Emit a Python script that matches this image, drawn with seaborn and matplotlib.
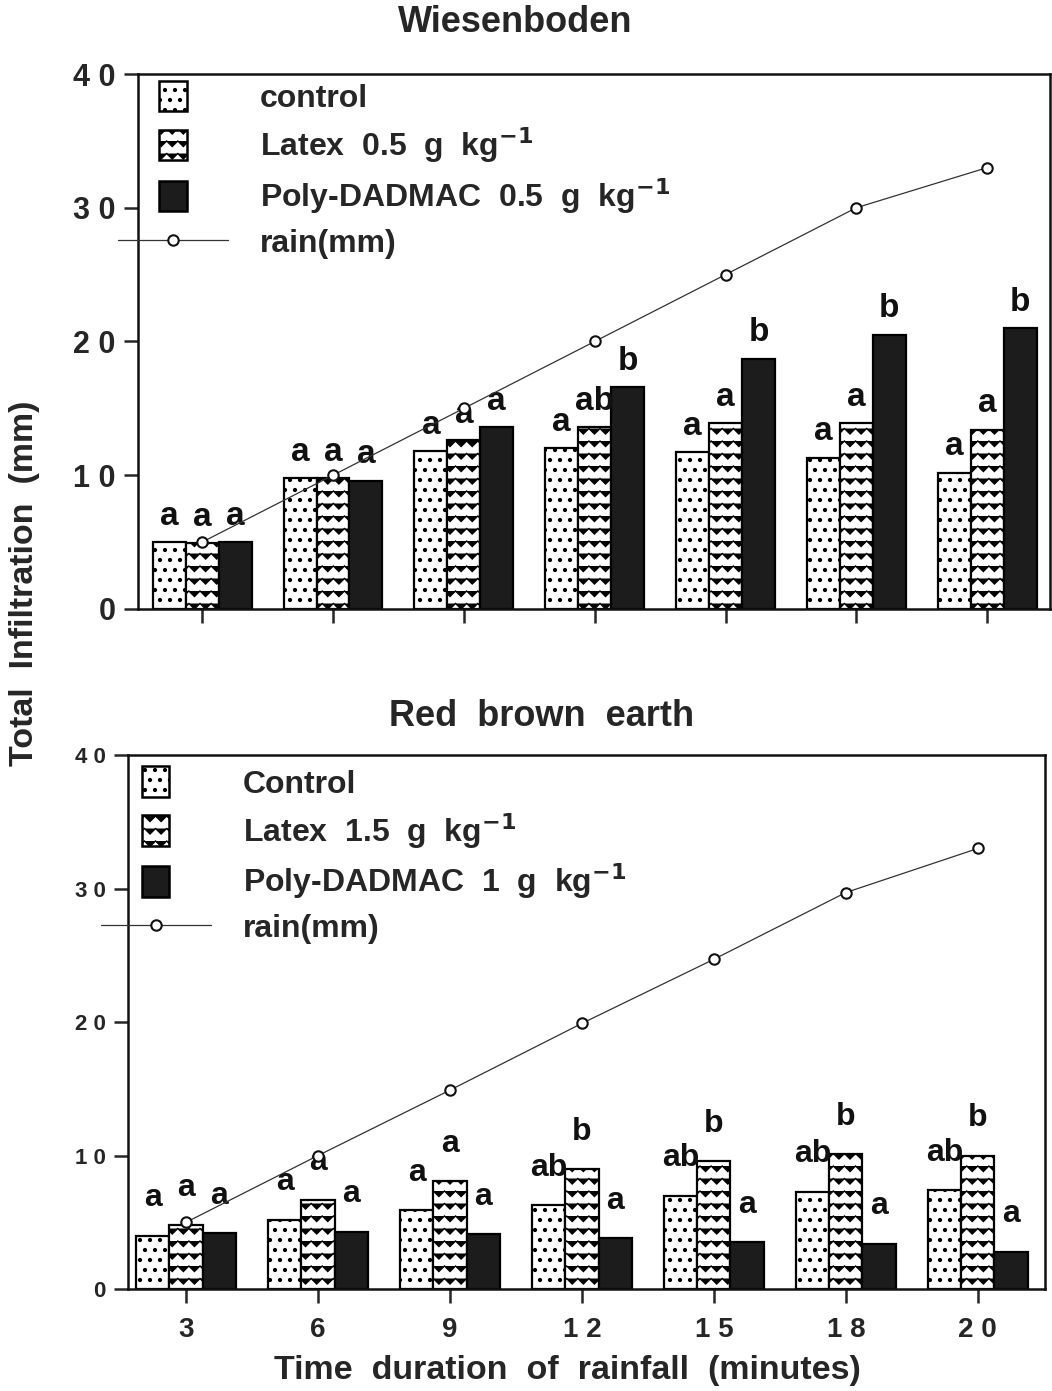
import numpy as np
import pandas as pd
import matplotlib
matplotlib.use("Agg")
import matplotlib.pyplot as plt
import seaborn as sns
from matplotlib import hatch as mhatch
from matplotlib.path import Path
from matplotlib.legend_handler import HandlerPatch
import matplotlib.patches as mpatches
from matplotlib.lines import Line2D

# ---------------- data ----------------
times = ["3", "6", "9", "12", "15", "18", "20"]
time_labels = ["3", "6", "9", "1 2", "1 5", "1 8", "2 0"]
y_ticks = [0, 10, 20, 30, 40]
y_tick_labels = ["0", "1 0", "2 0", "3 0", "4 0"]

wb_names = ["control", "Latex  0.5  g  kg$^{\\mathbf{-1}}$", "Poly-DADMAC  0.5  g  kg$^{\\mathbf{-1}}$"]
wb_control = [5.0, 9.8, 11.8, 12.0, 11.7, 11.3, 10.2]
wb_latex = [4.9, 9.8, 12.6, 13.6, 13.9, 13.9, 13.4]
wb_poly = [5.0, 9.6, 13.6, 16.6, 18.7, 20.5, 21.0]
wb_rain = [5, 10, 15, 20, 25, 30, 33]
wb_let_control = ["a", "a", "a", "a", "a", "a", "a"]
wb_let_latex = ["a", "a", "a", "ab", "a", "a", "a"]
wb_let_poly = ["a", "a", "a", "b", "b", "b", "b"]

rb_names = ["Control", "Latex  1.5  g  kg$^{\\mathbf{-1}}$", "Poly-DADMAC  1  g  kg$^{\\mathbf{-1}}$"]
rb_control = [4.0, 5.2, 5.9, 6.3, 7.0, 7.3, 7.4]
rb_latex = [4.8, 6.7, 8.1, 9.0, 9.6, 10.1, 10.0]
rb_poly = [4.2, 4.3, 4.1, 3.8, 3.5, 3.4, 2.8]
rb_rain = [5, 10, 14.9, 19.9, 24.7, 29.7, 33]
rb_let_control = ["a", "a", "a", "ab", "ab", "ab", "ab"]
rb_let_latex = ["a", "a", "a", "b", "b", "b", "b"]
rb_let_poly = ["a", "a", "a", "a", "a", "a", "a"]

# ---------------- custom hatches ----------------
class ZigzagHatch(mhatch.HatchPatternBase):
    def __init__(self, hatch, density):
        n = hatch.count("|")
        self.num_rows = int(n * density * 1.45)
        self.num_teeth = int(n * density * 1.5)
        self.num_lines = self.num_rows
        self.num_vertices = self.num_rows * (2 * self.num_teeth + 1) if self.num_rows else 0

    def set_vertices_and_codes(self, vertices, codes):
        npts = 2 * self.num_teeth + 1
        xs = np.linspace(0, 1, npts)
        amp = 0.22 / self.num_rows
        offs = np.where(np.arange(npts) % 2 == 0, amp, -amp)
        for r in range(self.num_rows):
            y0 = (r + 0.5) / self.num_rows
            sl = slice(r * npts, (r + 1) * npts)
            vertices[sl, 0] = xs
            vertices[sl, 1] = y0 + offs
            codes[sl] = Path.LINETO
            codes[r * npts] = Path.MOVETO


class DotHatch(mhatch.Circles):
    size = 0.14
    filled = True

    def __init__(self, hatch, density):
        self.num_rows = int(hatch.count(".") * density * 5 / 3)
        super().__init__(hatch, density)


_types = mhatch._hatch_types
_types[_types.index(mhatch.VerticalHatch)] = ZigzagHatch
_types[_types.index(mhatch.SmallFilledCircles)] = DotHatch

# ---------------- style ----------------
sns.set_style("ticks")
plt.rcParams["font.family"] = ["Liberation Sans", "DejaVu Sans"]
plt.rcParams["font.weight"] = "bold"
plt.rcParams["mathtext.default"] = "bf"
plt.rcParams["hatch.linewidth"] = 1.0
plt.rcParams["hatch.color"] = "black"

fig = plt.figure(figsize=(10.52, 13.91), dpi=100)
ax_top = fig.add_axes([0.1312, 0.5622, 0.8669, 0.3846])
ax_bot = fig.add_axes([0.1217, 0.0733, 0.8717, 0.3839])

hatches = [".", "|", ""]
fills = ["white", "white", "#1c1c1c"]
LEG_FS = 23


def square_patch(legend, orig_handle, xdescent, ydescent, width, height, fontsize):
    w = 0.85 * fontsize
    h = 0.95 * fontsize
    return mpatches.Rectangle((-xdescent + (width - w) / 2, -ydescent + (height - h) / 2), w, h)


def panel(ax, names, control, latex, poly, rain, letters, offset, let_fs, ytick_size, xlim,
          leg_anchor, leg_spacing):
    df = pd.DataFrame({
        "time": times * 3,
        "value": control + latex + poly,
        "treatment": [names[0]] * 7 + [names[1]] * 7 + [names[2]] * 7,
    })
    sns.barplot(data=df, x="time", y="value", hue="treatment", order=times, hue_order=names,
                palette=fills, saturation=1, width=0.755, edgecolor="black", linewidth=1.6,
                errorbar=None, legend=False, ax=ax)
    for cont, h, labs in zip(ax.containers, hatches, letters):
        for bar, lab in zip(cont, labs):
            bar.set_hatch(h)
            ax.text(bar.get_x() + bar.get_width() / 2, bar.get_height() + offset, lab,
                    ha="center", va="baseline", fontsize=let_fs, fontweight="bold", color="#111")

    rain_df = pd.DataFrame({"time": times, "rain": rain})
    n_before = len(ax.lines)
    sns.pointplot(data=rain_df, x="time", y="rain", order=times, color="#333333",
                  markers="o", errorbar=None, ax=ax)
    for ln in ax.lines[n_before:]:
        ln.set_linewidth(0.9)
        ln.set_markersize(7.5)
        ln.set_markerfacecolor("white")
        ln.set_markeredgecolor("#111")
        ln.set_markeredgewidth(1.5)
        ln.set_zorder(6)

    ax.set_ylim(0, 40)
    ax.set_xlim(*xlim)
    ax.set_yticks(y_ticks, y_tick_labels, fontsize=ytick_size, fontweight="bold")
    ax.set_xlabel("")
    ax.set_ylabel("")
    for sp in ax.spines.values():
        sp.set_visible(True)
        sp.set_linewidth(1.8)
        sp.set_color("#111")
    ax.tick_params(axis="y", direction="out", length=10, width=1.8, pad=6)
    ax.tick_params(axis="x", direction="out", length=10, width=1.8, pad=10)

    handles = [mpatches.Patch(facecolor=f, edgecolor="black", hatch=h, linewidth=1.8)
               for f, h in zip(fills, hatches)]
    handles.append(Line2D([], [], color="#333333", lw=0.9, marker="o", markersize=7.5,
                          markerfacecolor="white", markeredgecolor="#111", markeredgewidth=1.5))
    labels = list(names) + ["rain(mm)"]
    leg = ax.legend(handles, labels, loc="upper left", bbox_to_anchor=leg_anchor,
                    frameon=False, fontsize=LEG_FS, handlelength=3.45, handleheight=0.9,
                    handletextpad=1.0, labelspacing=leg_spacing, borderpad=0, borderaxespad=0,
                    numpoints=1, handler_map={mpatches.Patch: HandlerPatch(patch_func=square_patch)})
    for t in leg.get_texts():
        t.set_fontweight("bold")
    leg.set_zorder(10)


panel(ax_top, wb_names, wb_control, wb_latex, wb_poly, wb_rain,
      [wb_let_control, wb_let_latex, wb_let_poly], 1.3, 24, 22, (-0.49, 6.48), (-0.022, 0.984), 0.36)
ax_top.set_xticks(range(len(times)), [""] * len(times))

panel(ax_bot, rb_names, rb_control, rb_latex, rb_poly, rb_rain,
      [rb_let_control, rb_let_latex, rb_let_poly], 2.2, 23, 16, (-0.44, 6.51), (-0.03, 0.975), 0.35)
ax_bot.set_xticks(range(len(times)), time_labels, fontsize=20, fontweight="bold")

fig.text(515 / 1052, 1 - 22 / 1391, "Wiesenboden", ha="center", va="center", fontsize=26, fontweight="bold")
fig.text(542 / 1052, 1 - 716 / 1391, "Red  brown  earth", ha="center", va="center", fontsize=26, fontweight="bold")
fig.text(25 / 1052, 1 - 583 / 1391, "Total  Infiltration  (mm)", rotation=90, ha="center", va="center",
         fontsize=24.5, fontweight="bold")
fig.text(567 / 1052, 1 - 1370 / 1391, "Time  duration  of  rainfall  (minutes)", ha="center", va="center",
         fontsize=24.5, fontweight="bold")

fig.savefig("out.png", dpi=100)
